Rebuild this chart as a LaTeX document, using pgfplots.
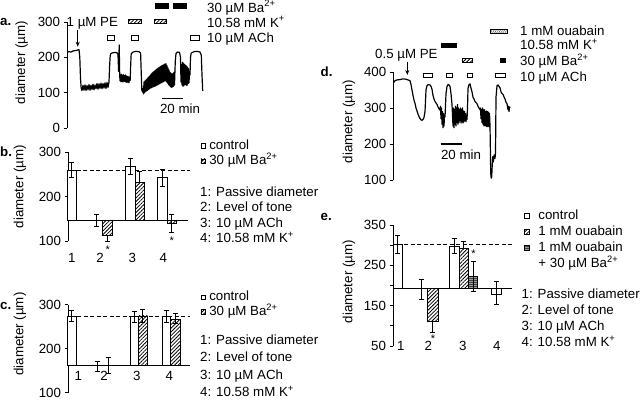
\documentclass[border=0pt]{standalone}
\usepackage{fontspec}
\setmainfont{Liberation Sans}
\usepackage{pgfplots}
\pgfplotsset{compat=1.18}
\usetikzlibrary{patterns,patterns.meta,arrows.meta}
\newcommand\lbl{\fontsize{13.3bp}{16bp}\selectfont}
\tikzset{
  bar/.style={draw=black, line width=0.7bp},
  hatch/.style={fill=white, postaction={pattern={Lines[angle=45,distance=2.6bp,line width=0.8bp]}}},
  ghatch/.style={fill=black!40, postaction={pattern={Lines[angle=0,distance=2bp,line width=0.5bp]}, pattern color=black!75}},
  ohatch/.style={fill=white, postaction={pattern={Lines[angle=60,distance=1.8bp,line width=0.6bp]}, pattern color=black!60}},
  lab/.style={inner sep=0pt, font=\lbl},
}
\pgfplotsset{
  panel/.style={scale only axis, clip=false, enlargelimits=false,
    axis x line=none, axis y line*=left,
    y axis line style={line width=0.8bp},
    tick align=outside, major tick length=3.5bp, minor tick length=3.5bp,
    tick style={black, line width=0.8bp},
    yticklabel style={font=\lbl},
    /pgf/number format/assume math mode=true,
    legend cell align=left,
    legend style={draw=none, fill=none, inner sep=0pt, outer sep=0pt, font=\lbl, anchor=north west,
      column sep=3.5bp, nodes={inner sep=0pt, text height=9.5bp, text depth=2.5bp}},
    legend image code/.code={\draw[##1, line width=0.6bp] (0bp,-2bp) rectangle (4.5bp,2.5bp);},
  },
  errs/.style={black, forget plot, mark=none, draw=none,
    error bars/.cd, y dir=both, y explicit, error mark=-,
    error bar style={draw=black, solid, line width=0.7bp},
    error mark options={rotate=90, draw=black, solid, mark size=2.5bp, line width=0.7bp}},
  base/.style={black, line width=0.9bp, forget plot},
  dash/.style={black, line width=0.8bp, dash pattern=on 4bp off 2.5bp, forget plot},
  trace/.style={black, line width=1.2bp, line join=round, forget plot},
}
\begin{document}
\begin{tikzpicture}[x=1bp,y=1bp]
\path[use as bounding box] (0,0) rectangle (640,-400);

%%%%%%%%%%%%%%%% a
\begin{axis}[panel, at={(67bp,-128bp)}, anchor=south west, width=138bp, height=106bp,
  xmin=67, xmax=205, ymin=0, ymax=300, ytick={0,100,200,300}]
\addplot[trace] table {
x y
67 214
69 216
71 215
73 218
75 219
77 220
79 222
79.8 200
80.5 140
81.2 112
82 106
83 121
84 107
85 122
86 106
87 120
88 108
89 123
90 107
91 121
92 109
93 124
94 108
95 122
96 111
97 126
98 110
99 125
100 112
101 127
102 111
103 126
104 113
105 128
106 112
107 129
108 115
109 130
109.6 175
110.2 205
111 211
113 213
115 214
117 213
118 208
118.6 160
119.2 235
119.7 150
120 134
120.5 150
121 131
121.5 152
122 132
122.5 149
123 130
123.5 151
124 133
124.5 148
125 131
125.5 150
126 130
126.5 147
127 129
127.5 146
128 130
128.5 145
129 128
129.5 144
130.2 135
130.7 180
131.2 210
133 215
136 217
139 216
140.6 212
141.2 160
141.8 108
142.5 102
143 112
143.5 97
144 130
144.5 100
145 133
145.5 103
146 136
146.5 105
147 139
147.5 107
148 142
148.5 109
149 145
149.5 111
150 148
150.5 113
151 152
151.5 114
152 155
152.5 116
153 158
153.5 117
154 160
154.5 118
155 162
155.5 119
156 165
156.5 121
157 167
157.5 122
158 169
158.5 124
159 171
159.5 125
160 173
160.5 127
161 175
161.5 128
162 177
162.5 130
163 178
163.5 131
164 180
164.5 133
165 181
165.5 134
166 182
166.5 131
167 176
167.5 127
168 170
168.5 123
169 164
169.5 120
170 158
170.5 117
171 155
171.5 115
172 152
172.5 116
173 154
173.5 118
174 158
174.5 122
175 165
175.3 190
176 211
177.5 215
179.5 214
180.5 200
181 130
181.5 180
182 122
182.5 186
183 118
183.5 183
184 120
184.5 180
185 124
185.5 178
186 122
186.5 175
187 120
187.5 172
188 125
188.5 168
189 128
189.5 160
190 150
190.5 200
191.2 212
194 216
197 217
200 215
201.3 206
202 150
202.7 105
};
% treatment bars
\addplot[bar, fill=black, forget plot] coordinates {(155,339) (155,353) (168.3,353) (168.3,339)} -- cycle;
\addplot[bar, fill=black, forget plot] coordinates {(173.3,339) (173.3,353) (186.7,353) (186.7,339)} -- cycle;
\addplot[bar, hatch, forget plot] coordinates {(128.3,296.3) (128.3,308.5) (141.7,308.5) (141.7,296.3)} -- cycle;
\addplot[bar, hatch, forget plot] coordinates {(154.3,296.3) (154.3,308.5) (166.7,308.5) (166.7,296.3)} -- cycle;
\addplot[bar, fill=white, forget plot] coordinates {(107.3,249) (107.3,261) (114,261) (114,249)} -- cycle;
\addplot[bar, fill=white, forget plot] coordinates {(131.7,249) (131.7,261) (138.3,261) (138.3,249)} -- cycle;
\addplot[bar, fill=white, forget plot] coordinates {(190.7,249) (190.7,261) (199,261) (199,249)} -- cycle;
% scale bar
\addplot[black, line width=1.2bp, forget plot] coordinates {(162.3,84) (183.3,84)};
\draw[-{Stealth[length=5bp,width=4bp]}, line width=0.8bp] (axis cs:77.7,277) -- (axis cs:77.7,230);
\end{axis}
\node[lab, anchor=base west, font=\lbl\bfseries] at (0,-25) {a.};
\node[lab, anchor=base west] at (66.5,-26) {1 µM PE};
\node[lab, anchor=base west] at (207,-12) {30 µM Ba\textsuperscript{2+}};
\node[lab, anchor=base west] at (207,-27) {10.58 mM K\textsuperscript{+}};
\node[lab, anchor=base west] at (207,-42.7) {10 µM ACh};
\node[lab, anchor=base] at (180,-113.3) {20 min};
\node[lab, rotate=90] at (21.7,-62.5) {diameter (µm)};

%%%%%%%%%%%%%%%% b
\begin{axis}[panel, at={(68bp,-241bp)}, anchor=south west, width=124bp, height=89bp,
  xmin=68, xmax=192, ymin=100, ymax=300, ytick={100,200,300},
  legend style={at={(1.070,1.137)}, row sep=3.5bp}]
\addlegendimage{bar, fill=white}
\addlegendentry{control}
\addlegendimage{bar, hatch}
\addlegendentry{30 µM Ba\textsuperscript{2+}}
\addplot[dash] coordinates {(76.5,259.6) (190,259.6)};
\addplot[base] coordinates {(68,147) (188,147)};
\addplot[bar, fill=white, forget plot] coordinates {(67.5,147) (67.5,259) (76.5,259) (76.5,147)} -- cycle;
\addplot[bar, hatch, forget plot] coordinates {(102.3,147) (102.3,112) (112.7,112) (112.7,147)} -- cycle;
\addplot[bar, fill=white, forget plot] coordinates {(125,147) (125,267) (135,267) (135,147)} -- cycle;
\addplot[bar, hatch, forget plot] coordinates {(135,147) (135,232) (144.3,232) (144.3,147)} -- cycle;
\addplot[bar, fill=white, forget plot] coordinates {(157.7,147) (157.7,242) (167.3,242) (167.3,147)} -- cycle;
\addplot[bar, hatch, forget plot] coordinates {(167.3,147) (167.3,140) (176.7,140) (176.7,147)} -- cycle;
\addplot[errs] coordinates {
(71.7,259) +- (0,17)
(96.7,147.5) +- (0,13.5)
(130.3,267) +- (0,18)
(162.7,242) +- (0,20)
(171.7,140.3) +- (0,20.7)
};
\addplot[errs] coordinates {
(107.7,112) += (0,0) -= (0,13.5)
(139.3,232) += (0,24) -= (0,0)
};
\end{axis}
\node[lab, anchor=base west, font=\lbl\bfseries] at (0,-156) {b.};
\node[lab, rotate=90] at (20,-186.7) {diameter (µm)};
\node[lab, anchor=base] at (71.7,-262.7) {1};
\node[lab, anchor=base] at (100,-262.7) {2};
\node[lab, anchor=base] at (132.3,-262.7) {3};
\node[lab, anchor=base] at (163.3,-262.7) {4};
\node[inner sep=0pt, font=\fontsize{11bp}{12bp}\selectfont, anchor=base] at (107.7,-253.1) {*};
\node[inner sep=0pt, font=\fontsize{11bp}{12bp}\selectfont, anchor=base] at (171.7,-244.4) {*};
\node[lab, anchor=base west] at (200,-196) {1: Passive diameter};
\node[lab, anchor=base west] at (200,-211.6) {2: Level of tone};
\node[lab, anchor=base west] at (200,-227.2) {3: 10 µM ACh};
\node[lab, anchor=base west] at (200,-242.8) {4: 10.58 mM K\textsuperscript{+}};

%%%%%%%%%%%%%%%% c
\begin{axis}[panel, at={(68bp,-392.5bp)}, anchor=south west, width=124bp, height=88bp,
  xmin=68, xmax=192, ymin=100, ymax=300, ytick={100,200,300},
  legend style={at={(1.070,1.148)}, row sep=2.5bp}]
\addlegendimage{bar, fill=white}
\addlegendentry{control}
\addlegendimage{bar, hatch}
\addlegendentry{30 µM Ba\textsuperscript{2+}}
\addplot[dash] coordinates {(77,274) (190,274)};
\addplot[base] coordinates {(68,162.5) (190,162.5)};
\addplot[bar, fill=white, forget plot] coordinates {(67.5,162.5) (67.5,274) (76.7,274) (76.7,162.5)} -- cycle;
\addplot[bar, fill=white, forget plot] coordinates {(130,162.5) (130,273) (138.3,273) (138.3,162.5)} -- cycle;
\addplot[bar, hatch, forget plot] coordinates {(138.3,162.5) (138.3,274) (147.3,274) (147.3,162.5)} -- cycle;
\addplot[bar, fill=white, forget plot] coordinates {(162.3,162.5) (162.3,274) (170.7,274) (170.7,162.5)} -- cycle;
\addplot[bar, hatch, forget plot] coordinates {(170.7,162.5) (170.7,267) (180,267) (180,162.5)} -- cycle;
\addplot[errs] coordinates {
(71.7,274.5) +- (0,12.5)
(97.3,160.5) +- (0,11.3)
(108.3,161.5) +- (0,17.7)
(134.3,272) +- (0,12)
(142.7,274.5) +- (0,14.5)
(166,274) +- (0,13.7)
(175.7,268.5) +- (0,11.5)
};
\end{axis}
\node[lab, anchor=base west, font=\lbl\bfseries] at (0,-309.3) {c.};
\node[lab, rotate=90] at (20,-334) {diameter (µm)};
\node[lab, anchor=base] at (78.3,-380) {1};
\node[lab, anchor=base] at (104,-380) {2};
\node[lab, anchor=base] at (136.7,-380) {3};
\node[lab, anchor=base] at (169.3,-380) {4};
\node[lab, anchor=base west] at (200,-344) {1: Passive diameter};
\node[lab, anchor=base west] at (200,-361.5) {2: Level of tone};
\node[lab, anchor=base west] at (200,-379) {3: 10 µM ACh};
\node[lab, anchor=base west] at (200,-396.5) {4: 10.58 mM K\textsuperscript{+}};

%%%%%%%%%%%%%%%% d
\begin{axis}[panel, at={(393.3bp,-180bp)}, anchor=south west, width=118.7bp, height=108bp,
  xmin=393.3, xmax=512, ymin=100, ymax=400, ytick={100,200,300,400}]
\addplot[trace] table {
x y
393.5 370
395 376
397 378
400 379
403 381
406 380
408 378
410 376
411 365
412 350
413 335
414 322
415 313
416 300
417 292
418 283
419 276
420 271
421 267
422 266
423 268
424 274
425 290
425.5 320
426 350
427 362
428 365
430 364
431 360
432 352
433 335
434 325
435 318
436 314
437 310
438 303
439 298
440 294
440.5 305
441 270
441.5 300
442 255
442.5 290
443 245
443.5 285
444 250
444.5 280
445 275
446 340
447 360
448 365
449 364
450 360
451 340
452 310
452.5 280
453 250
453.5 300
454 245
454.5 295
455 255
455.5 305
456 250
456.5 300
457 260
457.5 310
458 255
458.5 300
459 260
459.5 295
460 265
460.5 300
461 258
461.5 295
462 262
462.5 300
463 258
463.5 292
464 262
464.5 290
465 265
465.5 285
466 262
466.5 280
467 268
467.5 300
468 355
469 365
470 367
471 355
472 345
473 330
474 325
475 318
476 315
477 312
478 305
479 300
480 295
480.5 300
481 270
481.5 295
482 260
482.5 300
483 255
483.5 295
484 250
484.5 295
485 252
485.5 290
486 250
486.5 292
487 248
487.5 290
488 250
488.5 288
489 248
489.5 285
490 250
490.3 200
490.7 120
491.2 105
491.7 108
492.2 140
492.7 165
493.2 150
493.7 158
494.2 170
495 160
495.5 175
496 330
497 362
498 364
499 360
500 356
501 345
502 340
503 338
504 331
505 325
506 316
507 312
508 295
508.5 305
509 290
509.5 303
510 300
};
\addplot[bar, ohatch, forget plot] coordinates {(490,508.3) (490,518) (507,518) (507,508.3)} -- cycle;
\addplot[bar, fill=black, forget plot] coordinates {(441.7,468) (441.7,480.5) (456.7,480.5) (456.7,468)} -- cycle;
\addplot[bar, hatch, forget plot] coordinates {(462.7,426.4) (462.7,438.9) (472.7,438.9) (472.7,426.4)} -- cycle;
\addplot[bar, fill=black, forget plot] coordinates {(500,426.4) (500,437.5) (505,437.5) (505,426.4)} -- cycle;
\addplot[bar, fill=white, forget plot] coordinates {(423.3,384.7) (423.3,397.2) (432.7,397.2) (432.7,384.7)} -- cycle;
\addplot[bar, fill=white, forget plot] coordinates {(446,384.7) (446,397.2) (452,397.2) (452,384.7)} -- cycle;
\addplot[bar, fill=white, forget plot] coordinates {(467.3,384.7) (467.3,397.2) (472,397.2) (472,384.7)} -- cycle;
\addplot[bar, fill=white, forget plot] coordinates {(495,384.7) (495,397.2) (505.7,397.2) (505.7,384.7)} -- cycle;
\addplot[black, line width=1.2bp, forget plot] coordinates {(440.7,200) (461.7,200)};
\draw[-{Stealth[length=5bp,width=4bp]}, line width=0.8bp] (axis cs:407.3,427.8) -- (axis cs:407.3,391.7);
\end{axis}
\node[lab, anchor=base west, font=\lbl\bfseries] at (320.5,-76) {d.};
\node[lab, rotate=90] at (349,-121.7) {diameter (µm)};
\node[lab, anchor=base west] at (375,-58.3) {0.5 µM PE};
\node[lab, anchor=base west] at (520,-35) {1 mM ouabain};
\node[lab, anchor=base west] at (520,-49.8) {10.58 mM K\textsuperscript{+}};
\node[lab, anchor=base west] at (520,-65.5) {30 µM Ba\textsuperscript{2+}};
\node[lab, anchor=base west] at (520,-81.7) {10 µM ACh};
\node[lab, anchor=base] at (461,-159.3) {20 min};

%%%%%%%%%%%%%%%% e
\begin{axis}[panel, at={(393bp,-346bp)}, anchor=south west, width=122bp, height=121bp,
  xmin=393, xmax=515, ymin=50, ymax=350, ytick={50,150,250,350}, minor ytick={100,200,300},
  legend style={at={(1.074,1.1256)}, row sep=4bp, column sep=8.5bp},
  legend image code/.code={\draw[#1, line width=0.6bp] (0bp,-2.3bp) rectangle (5.3bp,2.7bp);}]
\addlegendimage{bar, fill=white}
\addlegendentry{control}
\addlegendimage{bar, hatch}
\addlegendentry{1 mM ouabain}
\addlegendimage{bar, ghatch}
\addlegendentry{1 mM ouabain}
\addlegendimage{empty legend}
\addlegendentry{+ 30 µM Ba\textsuperscript{2+}}
\addplot[dash] coordinates {(404,303) (511.7,303)};
\addplot[base] coordinates {(393,193) (512,193)};
\addplot[bar, fill=white, forget plot] coordinates {(393.3,193) (393.3,303) (402.7,303) (402.7,193)} -- cycle;
\addplot[bar, hatch, forget plot] coordinates {(427.3,193) (427.3,110) (438.3,110) (438.3,193)} -- cycle;
\addplot[bar, fill=white, forget plot] coordinates {(449.3,193) (449.3,298) (459,298) (459,193)} -- cycle;
\addplot[bar, hatch, forget plot] coordinates {(459,193) (459,292) (468.3,292) (468.3,193)} -- cycle;
\addplot[bar, ghatch, forget plot] coordinates {(468.3,193) (468.3,223.5) (477.3,223.5) (477.3,193)} -- cycle;
\addplot[bar, fill=white, forget plot] coordinates {(491,193) (491,178) (501,178) (501,193)} -- cycle;
\addplot[errs] coordinates {
(397.3,302.5) +- (0,22.5)
(421,191) +- (0,25)
(454,298.5) +- (0,18.5)
(473.3,222) +- (0,37)
(496,181) +- (0,28.5)
};
\addplot[errs] coordinates {
(432.3,110) += (0,0) -= (0,27)
(463.3,292) += (0,18) -= (0,0)
};
\end{axis}
\node[lab, anchor=base west, font=\lbl\bfseries] at (320.5,-220.7) {e.};
\node[lab, rotate=90] at (349,-281.7) {diameter (µm)};
\node[lab, anchor=base] at (400.7,-350.7) {1};
\node[lab, anchor=base] at (428.3,-350.7) {2};
\node[lab, anchor=base] at (462.7,-350.7) {3};
\node[lab, anchor=base] at (496.7,-350.7) {4};
\node[inner sep=0pt, font=\fontsize{11bp}{12bp}\selectfont, anchor=base] at (433,-342.4) {*};
\node[inner sep=0pt, font=\fontsize{11bp}{12bp}\selectfont, anchor=base] at (473.5,-257.9) {*};
\node[lab, anchor=base west] at (521.5,-298.3) {1: Passive diameter};
\node[lab, anchor=base west] at (521.5,-314) {2: Level of tone};
\node[lab, anchor=base west] at (521.5,-330) {3: 10 µM ACh};
\node[lab, anchor=base west] at (521.5,-346.7) {4: 10.58 mM K\textsuperscript{+}};
\end{tikzpicture}
\end{document}
